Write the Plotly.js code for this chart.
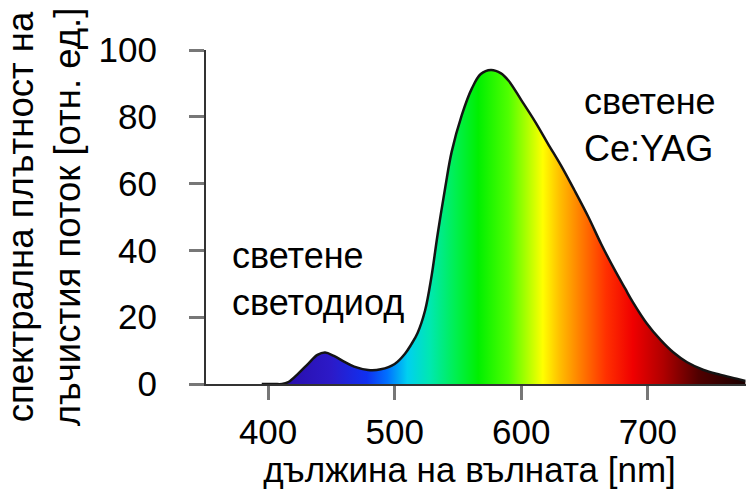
<!DOCTYPE html>
<html>
<head>
<meta charset="utf-8">
<script src="https://cdn.plot.ly/plotly-3.0.1.min.js"></script>
<style>html,body{margin:0;padding:0;background:#fff;}#chart{width:746px;height:489px;}</style>
</head>
<body>
<div id="chart"></div>
<script>
// Wavelength (nm) and relative spectral radiant flux density (rel. units)
const wavelength = [395, 405, 411, 416, 424, 432, 439, 445, 452, 460, 468, 479, 489, 500, 508, 513, 518, 524, 529, 534, 540, 545, 553, 561, 568, 576, 584, 590, 600, 611, 621, 632, 642, 653, 663, 674, 682, 688, 699, 710, 720, 731, 744, 757, 770, 777];
const intensity  = [0, 0, 0, 0.6, 3.2, 6.2, 8.7, 9.4, 8.4, 6.7, 5.2, 4.2, 4.4, 6.0, 9.0, 11.8, 15.2, 22, 32, 45, 59, 69.5, 80.5, 88.5, 92.8, 94, 93, 90.8, 85, 78.5, 72, 65, 58, 50, 42, 34, 28.6, 24.6, 18.2, 13.2, 9.5, 6.5, 4.2, 2.8, 1.6, 0.9];

const xTicks = [400, 500, 600, 700];
const yTicks = [0, 20, 40, 60, 80, 100];

const xTitle = "дължина на вълната [nm]";
const yTitle = "спектрална плътност на<br>лъчистия поток [отн. ед.]";
const ledLabel = "светене<br>светодиод";
const yagLabel = "светене<br>Ce:YAG";

// spectral colours along the wavelength axis (nm, colour)
const specNm  = [395, 420, 450, 478, 494, 510, 528, 548, 566, 590, 605, 617, 630, 646, 667, 688, 712, 740, 777];
const specCol = ['#1c0a70', '#2a10b0', '#2c1ac8', '#1030f0', '#0070ff', '#00d0f0', '#00e8b0', '#00f050', '#00f000', '#50ff00', '#b0ff00', '#ffff00', '#ffc000', '#ff8000', '#ff3000', '#f00000', '#b00000', '#500000', '#1a0000'];
const nmMin = specNm[0], nmMax = specNm[specNm.length - 1];
const colorscale = specNm.map((w, i) => [(w - nmMin) / (nmMax - nmMin), specCol[i]]);

const FONT = 'Liberation Sans, Arial, sans-serif';

const trace = {
  x: wavelength,
  y: intensity,
  type: 'scatter',
  mode: 'lines',
  line: {color: '#141414', width: 2.5, shape: 'spline', smoothing: 1},
  fill: 'tozeroy',
  fillgradient: {type: 'horizontal', colorscale: colorscale, start: nmMin, stop: nmMax},
  hoverinfo: 'x+y'
};

const layout = {
  width: 746, height: 489,
  margin: {l: 193, r: 0, t: 50, b: 105, pad: 0},
  paper_bgcolor: '#ffffff', plot_bgcolor: '#ffffff',
  showlegend: false,
  font: {family: FONT, size: 36, color: '#000'},
  xaxis: {
    range: [340.7, 777.5],
    tickvals: xTicks, ticktext: xTicks.map(String),
    tickfont: {size: 35},
    ticks: 'outside', ticklen: 14, tickwidth: 3, tickcolor: '#777',
    ticklabelstandoff: 2,
    showline: true, linecolor: '#333', linewidth: 2,
    showgrid: false, zeroline: false,
    title: {text: xTitle, font: {size: 35}, standoff: 16},
    automargin: false
  },
  yaxis: {
    range: [0, 100],
    anchor: 'free', position: 0.0217,
    tickvals: yTicks, ticktext: yTicks.map(String),
    tickfont: {size: 35},
    ticks: 'outside', ticklen: 15, tickwidth: 3, tickcolor: '#777',
    ticklabelstandoff: 25,
    showline: true, linecolor: '#333', linewidth: 2,
    showgrid: false, zeroline: false,
    title: {text: yTitle, font: {size: 36.5}, standoff: 10},
    automargin: false
  },
  annotations: [
    {x: 369.6, y: 31.5, xref: 'x', yref: 'y', xanchor: 'left', yanchor: 'middle', align: 'left',
     text: ledLabel, showarrow: false, font: {size: 36, color: '#000'}},
    {x: 647.8, y: 77.5, xref: 'x', yref: 'y', xanchor: 'left', yanchor: 'middle', align: 'left',
     text: yagLabel, showarrow: false, font: {size: 36, color: '#000'}}
  ]
};

Plotly.newPlot('chart', [trace], layout, {displayModeBar: false, staticPlot: true});
</script>
</body>
</html>
